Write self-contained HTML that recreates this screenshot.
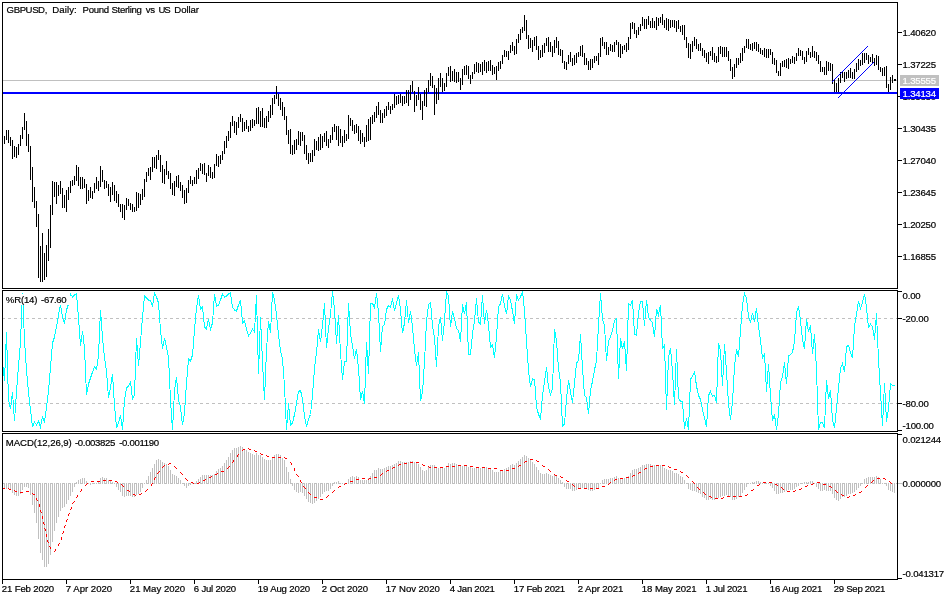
<!DOCTYPE html>
<html lang="en"><head><meta charset="utf-8"><title>GBPUSD, Daily</title>
<style>html,body{margin:0;padding:0;background:#fff}body{width:950px;height:600px;overflow:hidden}svg{display:block}text{font-family:"Liberation Sans",sans-serif;font-size:9.6px;fill:#000;letter-spacing:-0.2px}text{stroke:#000;stroke-width:.2px}.w{fill:#fff;stroke:#fff}</style></head><body>
<svg width="950" height="600" viewBox="0 0 950 600">
<rect width="950" height="600" fill="#fff"/>
<g shape-rendering="crispEdges" fill="none" stroke-width="1">
<path d="M3 80.5H897" stroke="#c0c0c0"/>
<rect x="3" y="92" width="894" height="2" fill="#0000ff" stroke="none"/>
<path d="M4.5 136V144M6.5 130V140M8.5 130V143M10.5 137V146M12.5 140V159M14.5 146V157M16.5 147V158M18.5 144V155M20.5 135V146M22.5 127V139M24.5 113V130M26.5 121V146M28.5 134V152M30.5 146V180M32.5 167V202M34.5 187V208M36.5 201V227M38.5 214V278M40.5 246V282M42.5 233V282M44.5 253V280M46.5 245V277M48.5 229V261M50.5 205V248M52.5 181V215M54.5 182V197M56.5 182V204M58.5 185V196M60.5 181V194M62.5 188V208M64.5 195V208M66.5 190V212M68.5 187V200M70.5 181V193M72.5 180V186M74.5 176V185M76.5 165V181M78.5 167V186M80.5 177V189M82.5 177V189M84.5 179V188M86.5 184V204M88.5 190V201M90.5 187V198M92.5 191V199M94.5 183V193M96.5 177V189M98.5 181V191M100.5 166V187M102.5 170V182M104.5 180V189M106.5 181V188M108.5 184V196M110.5 187V202M112.5 182V195M114.5 185V201M116.5 191V203M118.5 194V207M120.5 204V212M122.5 204V218M124.5 205V220M126.5 198V210M128.5 199V206M130.5 203V210M132.5 204V212M134.5 207V212M136.5 192V211M138.5 193V208M140.5 194V205M142.5 189V200M144.5 179V197M146.5 172V182M148.5 168V176M150.5 167V180M152.5 157V172M154.5 157V168M156.5 155V169M158.5 150V160M160.5 155V172M162.5 165V183M164.5 169V184M166.5 161V175M168.5 171V179M170.5 173V189M172.5 183V195M174.5 181V196M176.5 176V187M178.5 175V188M180.5 182V191M182.5 185V198M184.5 190V204M186.5 188V203M188.5 180V193M190.5 176V184M192.5 180V186M194.5 177V184M196.5 170V184M198.5 168V179M200.5 163V171M202.5 164V174M204.5 163V175M206.5 173V182M208.5 165V176M210.5 167V178M212.5 172V179M214.5 164V178M216.5 154V166M218.5 156V167M220.5 155V164M222.5 151V160M224.5 141V154M226.5 136V148M228.5 131V141M230.5 122V138M232.5 116V126M234.5 121V133M236.5 122V135M238.5 117V128M240.5 114V122M242.5 118V132M244.5 122V131M246.5 120V129M248.5 126V132M250.5 120V131M252.5 119V128M254.5 120V126M256.5 108V124M258.5 107V124M260.5 111V127M262.5 108V127M264.5 118V128M266.5 116V128M268.5 111V122M270.5 105V118M272.5 98V115M274.5 95V104M276.5 86V99M278.5 94V106M280.5 98V110M282.5 102V116M284.5 107V120M286.5 116V135M288.5 130V144M290.5 129V154M292.5 145V155M294.5 140V154M296.5 139V150M298.5 131V145M300.5 132V146M302.5 132V141M304.5 135V154M306.5 145V160M308.5 153V164M310.5 153V162M312.5 150V162M314.5 139V156M316.5 141V150M318.5 137V151M320.5 134V150M322.5 136V148M324.5 133V142M326.5 131V146M328.5 139V148M330.5 135V143M332.5 127V140M334.5 124V132M336.5 126V140M338.5 126V146M340.5 129V143M342.5 136V147M344.5 130V143M346.5 134V141M348.5 115V139M350.5 118V126M352.5 120V131M354.5 125V134M356.5 124V133M358.5 126V141M360.5 130V144M362.5 133V142M364.5 137V147M366.5 125V142M368.5 119V141M370.5 117V140M372.5 115V124M374.5 112V122M376.5 106V118M378.5 102V115M380.5 110V123M382.5 113V123M384.5 109V118M386.5 106V116M388.5 102V110M390.5 106V114M392.5 104V110M394.5 94V108M396.5 96V105M398.5 95V104M400.5 94V103M402.5 96V106M404.5 96V104M406.5 90V103M408.5 90V106M410.5 85V100M412.5 81V92M414.5 91V112M416.5 95V106M418.5 87V100M420.5 94V110M422.5 101V120M424.5 90V106M426.5 88V107M428.5 80V92M430.5 73V86M432.5 76V88M434.5 85V115M436.5 88V104M438.5 78V100M440.5 73V87M442.5 78V92M444.5 83V91M446.5 73V87M448.5 67V76M450.5 66V82M452.5 71V81M454.5 69V82M456.5 72V83M458.5 72V82M460.5 78V90M462.5 69V85M464.5 66V75M466.5 65V75M468.5 66V79M470.5 75V84M472.5 72V79M474.5 64V74M476.5 62V72M478.5 63V73M480.5 64V72M482.5 62V75M484.5 60V71M486.5 62V73M488.5 61V71M490.5 60V71M492.5 65V75M494.5 67V74M496.5 66V80M498.5 62V71M500.5 61V69M502.5 55V64M504.5 50V57M506.5 51V57M508.5 51V60M510.5 45V53M512.5 42V51M514.5 46V55M516.5 39V54M518.5 34V43M520.5 29V40M522.5 27V33M524.5 15V31M526.5 20V39M528.5 35V49M530.5 38V48M532.5 40V52M534.5 37V46M536.5 36V50M538.5 46V60M540.5 50V58M542.5 45V57M544.5 43V53M546.5 38V46M548.5 37V52M550.5 42V52M552.5 46V57M554.5 40V53M556.5 37V48M558.5 41V55M560.5 49V56M562.5 50V63M564.5 61V69M566.5 62V70M568.5 55V64M570.5 52V62M572.5 58V66M574.5 55V65M576.5 53V63M578.5 52V57M580.5 46V56M582.5 45V57M584.5 53V65M586.5 58V65M588.5 61V70M590.5 59V70M592.5 59V68M594.5 56V63M596.5 56V61M598.5 53V65M600.5 38V57M602.5 37V46M604.5 42V49M606.5 42V55M608.5 47V55M610.5 44V51M612.5 45V52M614.5 42V52M616.5 40V45M618.5 42V57M620.5 44V58M622.5 46V54M624.5 45V50M626.5 43V52M628.5 37V50M630.5 23V39M632.5 22V29M634.5 23V34M636.5 30V38M638.5 27V35M640.5 24V31M642.5 17V26M644.5 19V29M646.5 19V29M648.5 16V25M650.5 21V28M652.5 18V28M654.5 21V28M656.5 17V30M658.5 18V26M660.5 17V23M662.5 14V25M664.5 20V28M666.5 18V30M668.5 19V31M670.5 20V28M672.5 20V27M674.5 20V28M676.5 21V32M678.5 20V29M680.5 26V32M682.5 25V35M684.5 25V40M686.5 37V48M688.5 43V58M690.5 44V59M692.5 41V52M694.5 37V46M696.5 39V49M698.5 44V51M700.5 43V51M702.5 48V56M704.5 50V58M706.5 53V62M708.5 52V64M710.5 51V56M712.5 47V60M714.5 53V62M716.5 56V63M718.5 47V62M720.5 46V54M722.5 47V57M724.5 47V57M726.5 47V57M728.5 51V61M730.5 59V71M732.5 67V79M734.5 64V77M736.5 58V68M738.5 58V65M740.5 53V63M742.5 48V61M744.5 46V53M746.5 39V48M748.5 39V49M750.5 44V50M752.5 43V51M754.5 42V49M756.5 42V51M758.5 44V52M760.5 48V54M762.5 50V55M764.5 48V57M766.5 49V58M768.5 49V58M770.5 49V55M772.5 52V64M774.5 58V65M776.5 60V73M778.5 71V76M780.5 63V76M782.5 61V67M784.5 60V67M786.5 59V68M788.5 58V69M790.5 59V64M792.5 56V63M794.5 57V64M796.5 53V61M798.5 48V56M800.5 50V56M802.5 51V60M804.5 57V64M806.5 51V62M808.5 48V55M810.5 52V58M812.5 46V57M814.5 51V58M816.5 52V61M818.5 55V64M820.5 61V72M822.5 67V72M824.5 67V75M826.5 61V75M828.5 62V71M830.5 63V71M832.5 64V84M834.5 80V92M836.5 83V92M838.5 78V92M840.5 72V83M842.5 72V78M844.5 72V82M846.5 72V79M848.5 70V78M850.5 68V78M852.5 72V79M854.5 69V79M856.5 63V72M858.5 59V70M860.5 60V66M862.5 53V65M864.5 53V63M866.5 53V60M868.5 55V64M870.5 57V62M872.5 54V63M874.5 58V66M876.5 55V65M878.5 56V70M880.5 67V72M882.5 68V76M884.5 67V76M886.5 66V88M888.5 84V92M890.5 77V90M892.5 75V83M894.5 79V81" stroke="#000"/>
<rect x="894" y="79" width="2" height="2" fill="#000" stroke="none"/>
<path d="M832 81.5h1M833 80.5h1M834 79.5h1M835 78.5h1M836 77.5h1M837 76.5h1M838 75.5h1M839 74.5h1M840 73.5h1M841 72.5h1M842 71.5h1M843 70.5h1M844 69.5h1M845 68.5h1M846 67.5h1M847 66.5h1M848 65.5h1M849 64.5h1M850 63.5h1M851 62.5h1M852 61.5h1M853 60.5h1M854 59.5h1M855 58.5h1M856 57.5h1M857 56.5h1M858 55.5h1M859 54.5h1M860 53.5h1M861 52.5h1M862 51.5h1M863 50.5h1M864 49.5h1M865 48.5h1M866 47.5h1M867 46.5h1M838 97.5h1M839 96.5h1M840 95.5h1M841 94.5h1M842 93.5h1M843 92.5h1M844 91.5h1M845 90.5h1M846 89.5h1M847 88.5h1M848 87.5h1M849 86.5h1M850 85.5h1M851 84.5h1M852 83.5h1M853 82.5h1M854 81.5h1M855 80.5h1M856 79.5h1M857 78.5h1M858 77.5h1M859 76.5h1M860 75.5h1M861 74.5h1M862 73.5h1M863 72.5h1M864 71.5h1M865 70.5h1M866 69.5h1M867 68.5h1M868 67.5h1M869 66.5h1M870 65.5h1M871 64.5h1M872 63.5h1M873 62.5h1" stroke="#0000ff"/>
<path d="M2 318.5H897" stroke="#c0c0c0" stroke-dasharray="3 3"/>
<path d="M2 403.5H897" stroke="#c0c0c0" stroke-dasharray="3 3"/>
<polyline points="2.5,362.0 4.5,381.0 6.5,332.0 8.5,400.0 10.5,409.0 12.5,392.0 14.5,421.0 16.5,392.0 18.5,366.0 20.5,342.0 22.5,293.0 24.5,340.0 26.5,370.0 28.5,392.0 30.5,410.0 32.5,427.0 34.5,422.0 36.5,425.0 38.5,421.0 40.5,427.0 42.5,417.0 44.5,422.0 46.5,407.0 48.5,391.0 50.5,367.0 52.5,343.0 54.5,337.0 56.5,327.0 58.5,315.0 60.5,305.0 62.5,317.0 64.5,324.0 66.5,310.0 68.5,304.0 70.5,294.0 72.5,297.0 74.5,295.0 76.5,294.0 78.5,318.0 80.5,346.0 82.5,331.0 84.5,348.0 86.5,395.0 88.5,384.0 90.5,378.0 92.5,372.0 94.5,367.0 96.5,369.0 98.5,356.0 100.5,310.0 102.5,338.0 104.5,358.0 106.5,371.0 108.5,398.0 110.5,388.0 112.5,374.0 114.5,405.0 116.5,428.0 118.5,423.0 120.5,415.0 122.5,430.0 124.5,400.0 126.5,388.0 128.5,386.0 130.5,382.0 132.5,399.0 134.5,395.0 136.5,338.0 138.5,366.0 140.5,342.0 142.5,317.0 144.5,296.0 146.5,298.0 148.5,300.0 150.5,301.0 152.5,306.0 154.5,293.0 156.5,297.0 158.5,303.0 160.5,330.0 162.5,349.0 164.5,338.0 166.5,347.0 168.5,357.0 170.5,400.0 172.5,430.0 174.5,391.0 176.5,377.0 178.5,400.0 180.5,407.0 182.5,425.0 184.5,413.0 186.5,383.0 188.5,359.0 190.5,361.0 192.5,355.0 194.5,330.0 196.5,308.0 198.5,295.0 200.5,309.0 202.5,307.0 204.5,327.0 206.5,329.0 208.5,319.0 210.5,329.0 212.5,323.0 214.5,294.0 216.5,306.0 218.5,305.0 220.5,300.0 222.5,294.0 224.5,297.0 226.5,296.0 228.5,294.0 230.5,293.0 232.5,307.0 234.5,310.0 236.5,311.0 238.5,305.0 240.5,300.0 242.5,323.0 244.5,321.0 246.5,329.0 248.5,336.0 250.5,333.0 252.5,329.0 254.5,332.0 256.5,295.0 258.5,374.0 260.5,317.0 262.5,362.0 264.5,400.0 266.5,350.0 268.5,321.0 270.5,333.0 272.5,292.0 274.5,300.0 276.5,315.0 278.5,335.0 280.5,351.0 282.5,359.0 284.5,386.0 286.5,430.0 288.5,403.4 290.5,425.6 292.5,423.0 294.5,414.5 296.5,403.4 298.5,391.5 300.5,390.4 302.5,398.6 304.5,416.0 306.5,427.0 308.5,419.0 310.5,414.5 312.5,395.0 314.5,368.5 316.5,352.7 318.5,329.4 320.5,342.0 322.5,325.4 324.5,303.3 326.5,348.4 328.5,328.6 330.5,314.4 332.5,291.4 334.5,308.8 336.5,343.7 338.5,315.0 340.5,352.4 342.5,379.6 344.5,362.0 346.5,361.0 348.5,303.3 350.5,333.4 352.5,346.0 354.5,358.7 356.5,349.2 358.5,368.2 360.5,400.2 362.5,390.7 364.5,404.2 366.5,342.0 368.5,373.8 370.5,304.0 372.5,303.3 374.5,308.0 376.5,293.4 378.5,312.8 380.5,351.6 382.5,326.2 384.5,324.7 386.5,309.6 388.5,305.6 390.5,307.2 392.5,298.5 394.5,311.2 396.5,302.5 398.5,295.3 400.5,309.6 402.5,333.4 404.5,323.0 406.5,300.4 408.5,323.0 410.5,311.2 412.5,327.0 414.5,349.2 416.5,365.9 418.5,352.4 420.5,401.0 422.5,392.3 424.5,362.0 426.5,320.7 428.5,304.8 430.5,302.5 432.5,325.4 434.5,338.0 436.5,366.7 438.5,327.0 440.5,316.7 442.5,340.5 444.5,320.7 446.5,292.2 448.5,296.0 450.5,327.0 452.5,311.2 454.5,318.3 456.5,328.6 458.5,330.2 460.5,342.0 462.5,304.0 464.5,314.4 466.5,302.5 468.5,354.8 470.5,354.8 472.5,333.4 474.5,320.7 476.5,298.5 478.5,322.3 480.5,323.9 482.5,295.3 484.5,323.9 486.5,309.6 488.5,324.7 490.5,347.6 492.5,344.5 494.5,358.0 496.5,336.5 498.5,306.4 500.5,304.0 502.5,293.8 504.5,305.6 506.5,314.4 508.5,296.0 510.5,300.0 512.5,311.2 514.5,323.9 516.5,294.5 518.5,300.0 520.5,297.0 522.5,291.4 524.5,311.2 526.5,341.3 528.5,370.5 530.5,386.8 532.5,378.8 534.5,379.6 536.5,406.6 538.5,414.5 540.5,418.4 542.5,395.5 544.5,382.0 546.5,367.0 548.5,387.5 550.5,394.7 552.5,389.0 554.5,328.6 556.5,341.3 558.5,368.5 560.5,382.8 562.5,426.4 564.5,424.0 566.5,398.6 568.5,380.4 570.5,392.3 572.5,402.6 574.5,382.8 576.5,363.0 578.5,360.6 580.5,334.2 582.5,368.5 584.5,395.5 586.5,397.8 588.5,413.7 590.5,390.7 592.5,381.2 594.5,370.0 596.5,360.6 598.5,325.4 600.5,293.0 602.5,319.0 604.5,325.4 606.5,361.0 608.5,341.3 610.5,336.5 612.5,330.2 614.5,320.7 616.5,319.0 618.5,378.5 620.5,338.0 622.5,349.2 624.5,341.3 626.5,371.4 628.5,304.0 630.5,305.6 632.5,300.0 634.5,334.2 636.5,335.0 638.5,312.8 640.5,301.4 642.5,301.7 644.5,326.2 646.5,300.0 648.5,317.5 650.5,320.0 652.5,323.0 654.5,337.3 656.5,308.8 658.5,315.0 660.5,304.8 662.5,349.2 664.5,344.5 666.5,409.7 668.5,357.4 670.5,348.0 672.5,371.7 674.5,405.0 676.5,348.7 678.5,398.6 680.5,401.0 682.5,401.8 684.5,428.7 686.5,418.4 688.5,430.0 690.5,379.6 692.5,375.7 694.5,371.7 696.5,386.0 698.5,395.5 700.5,399.4 702.5,409.7 704.5,417.7 706.5,427.2 708.5,395.5 710.5,391.5 712.5,396.3 714.5,395.5 716.5,402.6 718.5,343.0 720.5,351.0 722.5,386.0 724.5,344.3 726.5,371.7 728.5,403.4 730.5,420.0 732.5,401.8 734.5,367.0 736.5,349.4 738.5,357.0 740.5,330.2 742.5,304.8 744.5,293.4 746.5,298.5 748.5,316.0 750.5,323.0 752.5,312.8 754.5,322.3 756.5,308.0 758.5,327.0 760.5,339.7 762.5,358.8 764.5,353.3 766.5,391.5 768.5,363.8 770.5,395.5 772.5,420.8 774.5,414.5 776.5,430.0 778.5,414.5 780.5,382.8 782.5,376.5 784.5,362.2 786.5,384.4 788.5,355.7 790.5,354.8 792.5,352.4 794.5,341.3 796.5,312.8 798.5,306.0 800.5,320.7 802.5,339.7 804.5,349.2 806.5,319.0 808.5,331.8 810.5,325.4 812.5,354.0 814.5,334.2 816.5,370.0 818.5,430.0 820.5,422.4 822.5,422.4 824.5,428.0 826.5,380.4 828.5,398.6 830.5,390.5 832.5,419.7 834.5,427.6 836.5,408.7 838.5,388.0 840.5,368.5 842.5,363.7 844.5,372.2 846.5,346.5 848.5,345.6 850.5,352.3 852.5,358.4 854.5,326.0 856.5,314.6 858.5,301.2 860.5,308.5 862.5,302.4 864.5,294.0 866.5,307.3 868.5,327.4 870.5,324.3 872.5,326.8 874.5,339.5 876.5,313.4 878.5,360.0 880.5,392.9 882.5,425.8 884.5,383.0 886.5,421.5 888.5,408.7 890.5,383.7 892.5,385.6 894.5,385.6" stroke="#00ffff"/>
<path d="M4.5 483V488M6.5 483V489M8.5 483V489M10.5 483V490M12.5 483V493M14.5 483V495M16.5 483V496M18.5 483V496M20.5 483V494M22.5 483V490M24.5 483V487M26.5 483V487M28.5 483V488M30.5 483V495M32.5 483V505M34.5 483V513M36.5 483V523M38.5 483V539M40.5 483V553M42.5 483V560M44.5 483V567M46.5 483V567M48.5 483V564M50.5 483V555M52.5 483V542M54.5 483V531M56.5 483V523M58.5 483V517M60.5 483V511M62.5 483V508M64.5 483V507M66.5 483V504M68.5 483V500M70.5 483V496M72.5 483V492M74.5 483V487M76.5 482V484M78.5 480V484M80.5 479V484M82.5 478V484M84.5 478V484M86.5 481V484M88.5 483V484M90.5 483V485M92.5 483V484M94.5 483V484M96.5 483V484M98.5 481V484M100.5 478V484M102.5 477V484M104.5 478V484M106.5 478V484M108.5 480V484M110.5 481V484M112.5 482V484M114.5 483V484M116.5 483V487M118.5 483V490M120.5 483V492M122.5 483V496M124.5 483V497M126.5 483V496M128.5 483V496M130.5 483V496M132.5 483V497M134.5 483V497M136.5 483V495M138.5 483V494M140.5 483V492M142.5 483V488M144.5 483V484M146.5 480V484M148.5 476V484M150.5 472V484M152.5 468V484M154.5 464V484M156.5 460V484M158.5 459V484M160.5 460V484M162.5 462V484M164.5 463V484M166.5 464V484M168.5 466V484M170.5 470V484M172.5 474V484M174.5 475V484M176.5 476V484M178.5 478V484M180.5 480V484M182.5 483V484M184.5 483V486M186.5 483V488M188.5 483V486M190.5 483V485M192.5 483V484M194.5 483V484M196.5 481V484M198.5 479V484M200.5 477V484M202.5 475V484M204.5 475V484M206.5 475V484M208.5 475V484M210.5 475V484M212.5 475V484M214.5 474V484M216.5 471V484M218.5 469V484M220.5 468V484M222.5 466V484M224.5 463V484M226.5 460V484M228.5 457V484M230.5 453V484M232.5 450V484M234.5 448V484M236.5 448V484M238.5 447V484M240.5 446V484M242.5 447V484M244.5 449V484M246.5 450V484M248.5 452V484M250.5 453V484M252.5 454V484M254.5 455V484M256.5 453V484M258.5 455V484M260.5 455V484M262.5 457V484M264.5 459V484M266.5 460V484M268.5 460V484M270.5 460V484M272.5 457V484M274.5 455V484M276.5 454V484M278.5 454V484M280.5 455V484M282.5 458V484M284.5 460V484M286.5 467V484M288.5 472V484M290.5 479V484M292.5 483V486M294.5 483V490M296.5 483V492M298.5 483V493M300.5 483V492M302.5 483V493M304.5 483V496M306.5 483V499M308.5 483V502M310.5 483V503M312.5 483V504M314.5 483V503M316.5 483V501M318.5 483V499M320.5 483V497M322.5 483V494M324.5 483V492M326.5 483V491M328.5 483V491M330.5 483V489M332.5 483V486M334.5 482V484M336.5 482V484M338.5 481V484M340.5 483V484M342.5 483V484M344.5 483V484M346.5 483V484M348.5 479V484M350.5 477V484M352.5 476V484M354.5 477V484M356.5 476V484M358.5 477V484M360.5 480V484M362.5 480V484M364.5 480V484M366.5 480V484M368.5 478V484M370.5 476V484M372.5 473V484M374.5 470V484M376.5 470V484M378.5 468V484M380.5 469V484M382.5 469V484M384.5 468V484M386.5 467V484M388.5 466V484M390.5 466V484M392.5 465V484M394.5 464V484M396.5 463V484M398.5 461V484M400.5 461V484M402.5 462V484M404.5 462V484M406.5 462V484M408.5 462V484M410.5 461V484M412.5 461V484M414.5 462V484M416.5 462V484M418.5 464V484M420.5 467V484M422.5 470V484M424.5 471V484M426.5 470V484M428.5 467V484M430.5 465V484M432.5 465V484M434.5 465V484M436.5 467V484M438.5 468V484M440.5 468V484M442.5 468V484M444.5 468V484M446.5 466V484M448.5 463V484M450.5 464V484M452.5 463V484M454.5 463V484M456.5 464V484M458.5 465V484M460.5 466V484M462.5 466V484M464.5 466V484M466.5 466V484M468.5 467V484M470.5 467V484M472.5 468V484M474.5 468V484M476.5 468V484M478.5 468V484M480.5 468V484M482.5 467V484M484.5 467V484M486.5 467V484M488.5 468V484M490.5 469V484M492.5 470V484M494.5 472V484M496.5 472V484M498.5 472V484M500.5 471V484M502.5 470V484M504.5 469V484M506.5 468V484M508.5 467V484M510.5 465V484M512.5 464V484M514.5 465V484M516.5 463V484M518.5 461V484M520.5 459V484M522.5 457V484M524.5 455V484M526.5 456V484M528.5 458V484M530.5 460V484M532.5 462V484M534.5 464V484M536.5 467V484M538.5 470V484M540.5 473V484M542.5 474V484M544.5 474V484M546.5 473V484M548.5 474V484M550.5 475V484M552.5 476V484M554.5 475V484M556.5 476V484M558.5 478V484M560.5 480V484M562.5 482V484M564.5 483V487M566.5 483V489M568.5 483V489M570.5 483V489M572.5 483V491M574.5 483V491M576.5 483V490M578.5 483V489M580.5 483V489M582.5 483V488M584.5 483V489M586.5 483V489M588.5 483V490M590.5 483V491M592.5 483V491M594.5 483V490M596.5 483V489M598.5 483V488M600.5 483V484M602.5 480V484M604.5 479V484M606.5 479V484M608.5 479V484M610.5 478V484M612.5 478V484M614.5 477V484M616.5 476V484M618.5 478V484M620.5 478V484M622.5 479V484M624.5 478V484M626.5 477V484M628.5 476V484M630.5 473V484M632.5 470V484M634.5 469V484M636.5 469V484M638.5 468V484M640.5 467V484M642.5 465V484M644.5 465V484M646.5 464V484M648.5 464V484M650.5 464V484M652.5 465V484M654.5 465V484M656.5 465V484M658.5 465V484M660.5 465V484M662.5 466V484M664.5 468V484M666.5 469V484M668.5 470V484M670.5 470V484M672.5 471V484M674.5 473V484M676.5 473V484M678.5 474V484M680.5 476V484M682.5 477V484M684.5 480V484M686.5 483V484M688.5 483V489M690.5 483V490M692.5 483V491M694.5 483V491M696.5 483V492M698.5 483V493M700.5 483V494M702.5 483V497M704.5 483V498M706.5 483V500M708.5 483V500M710.5 483V499M712.5 483V500M714.5 483V500M716.5 483V499M718.5 483V498M720.5 483V497M722.5 483V496M724.5 483V496M726.5 483V495M728.5 483V496M730.5 483V497M732.5 483V500M734.5 483V500M736.5 483V499M738.5 483V497M740.5 483V496M742.5 483V493M744.5 483V490M746.5 483V487M748.5 483V484M750.5 483V484M752.5 482V484M754.5 482V484M756.5 481V484M758.5 481V484M760.5 482V484M762.5 483V484M764.5 483V484M766.5 483V484M768.5 483V484M770.5 483V486M772.5 483V488M774.5 483V491M776.5 483V494M778.5 483V494M780.5 483V493M782.5 483V493M784.5 483V492M786.5 483V491M788.5 483V490M790.5 483V490M792.5 483V490M794.5 483V489M796.5 483V487M798.5 483V486M800.5 483V484M802.5 483V484M804.5 482V484M806.5 482V484M808.5 482V484M810.5 481V484M812.5 481V484M814.5 483V484M816.5 483V487M818.5 483V489M820.5 483V491M822.5 483V491M824.5 483V490M826.5 483V491M828.5 483V491M830.5 483V491M832.5 483V494M834.5 483V498M836.5 483V500M838.5 483V501M840.5 483V499M842.5 483V497M844.5 483V497M846.5 483V496M848.5 483V494M850.5 483V494M852.5 483V493M854.5 483V492M856.5 483V490M858.5 483V488M860.5 483V486M862.5 483V484M864.5 479V484M866.5 478V484M868.5 477V484M870.5 477V484M872.5 477V484M874.5 477V484M876.5 476V484M878.5 477V484M880.5 479V484M882.5 483V484M884.5 483V484M886.5 483V486M888.5 483V490M890.5 483V491M892.5 483V492M894.5 483V493" stroke="#c0c0c0"/>
<path d="M2 483.5H897" stroke="#c0c0c0" stroke-dasharray="3 3"/>
<path d="M898 483.5H902" stroke="#c0c0c0"/>
<path d="M248 448.5h1M243 449.5h2M249 449.5h2M242 450.5h1M254 450.5h1M255 451.5h2M260 453.5h1M238 454.5h1M261 454.5h2M237 455.5h1M266 455.5h1M237 456.5h1M267 456.5h2M272 457.5h3M278 457.5h3M284 457.5h1M285 458.5h2M530 459.5h3M233 460.5h1M536 460.5h1M233 461.5h1M525 461.5h2M537 461.5h2M232 462.5h1M290 462.5h1M410 462.5h3M416 462.5h3M524 462.5h1M169 463.5h2M291 463.5h1M404 463.5h3M168 464.5h1M291 464.5h1M399 464.5h2M422 464.5h1M164 465.5h1M398 465.5h1M423 465.5h2M458 465.5h3M464 465.5h3M519 465.5h2M542 465.5h1M656 465.5h3M662 465.5h3M163 466.5h1M174 466.5h1M229 466.5h1M428 466.5h1M446 466.5h3M452 466.5h3M470 466.5h3M518 466.5h1M543 466.5h2M650 466.5h3M668 466.5h1M162 467.5h1M175 467.5h1M228 467.5h1M393 467.5h2M429 467.5h2M434 467.5h3M440 467.5h3M476 467.5h3M482 467.5h3M669 467.5h2M176 468.5h1M227 468.5h1M294 468.5h1M392 468.5h1M488 468.5h3M494 468.5h3M512 468.5h3M645 468.5h2M294 469.5h1M548 469.5h1M644 469.5h1M674 469.5h3M294 470.5h1M387 470.5h2M500 470.5h3M506 470.5h3M549 470.5h1M159 471.5h1M221 471.5h3M386 471.5h1M550 471.5h1M680 471.5h1M158 472.5h1M180 472.5h1M639 472.5h2M681 472.5h2M157 473.5h1M181 473.5h1M217 473.5h1M382 473.5h1M638 473.5h1M182 474.5h1M215 474.5h2M296 474.5h1M381 474.5h1M554 474.5h1M297 475.5h1M380 475.5h1M555 475.5h2M633 475.5h2M686 475.5h1M211 476.5h1M298 476.5h1M560 476.5h1M632 476.5h1M687 476.5h1M155 477.5h1M209 477.5h2M374 477.5h3M561 477.5h2M626 477.5h3M688 477.5h1M154 478.5h1M185 478.5h1M362 478.5h3M369 478.5h2M620 478.5h3M877 478.5h3M883 478.5h2M154 479.5h1M186 479.5h1M205 479.5h1M356 479.5h3M368 479.5h1M615 479.5h2M885 479.5h1M103 480.5h3M109 480.5h3M187 480.5h1M203 480.5h2M300 480.5h1M566 480.5h1M614 480.5h1M873 480.5h1M91 481.5h3M97 481.5h3M115 481.5h2M300 481.5h1M350 481.5h3M567 481.5h2M692 481.5h1M872 481.5h1M889 481.5h1M117 482.5h1M191 482.5h2M199 482.5h1M301 482.5h1M610 482.5h1M693 482.5h1M763 482.5h3M769 482.5h3M817 482.5h3M871 482.5h1M890 482.5h1M87 483.5h1M152 483.5h1M193 483.5h1M197 483.5h2M345 483.5h2M609 483.5h1M694 483.5h1M813 483.5h1M891 483.5h1M86 484.5h1M121 484.5h1M151 484.5h1M344 484.5h1M572 484.5h1M608 484.5h1M759 484.5h1M775 484.5h2M811 484.5h2M823 484.5h3M85 485.5h1M122 485.5h1M151 485.5h1M573 485.5h1M757 485.5h2M777 485.5h1M807 485.5h1M867 485.5h1M123 486.5h1M303 486.5h1M339 486.5h2M574 486.5h1M602 486.5h3M805 486.5h2M829 486.5h2M866 486.5h1M304 487.5h1M338 487.5h1M697 487.5h1M781 487.5h1M831 487.5h1M865 487.5h1M2 488.5h3M8 488.5h1M305 488.5h1M578 488.5h3M584 488.5h3M590 488.5h3M596 488.5h3M698 488.5h1M782 488.5h1M801 488.5h1M9 489.5h2M81 489.5h1M147 489.5h1M699 489.5h1M753 489.5h1M783 489.5h1M799 489.5h2M14 490.5h1M81 490.5h1M127 490.5h2M146 490.5h1M334 490.5h1M751 490.5h2M795 490.5h1M835 490.5h1M15 491.5h2M26 491.5h3M80 491.5h1M129 491.5h1M145 491.5h1M333 491.5h1M787 491.5h3M793 491.5h2M836 491.5h1M861 491.5h1M20 492.5h3M308 492.5h1M332 492.5h1M703 492.5h1M837 492.5h1M859 492.5h2M32 493.5h1M141 493.5h1M309 493.5h1M704 493.5h1M33 494.5h2M133 494.5h2M139 494.5h2M310 494.5h1M705 494.5h1M747 494.5h1M841 494.5h1M855 494.5h1M77 495.5h1M135 495.5h1M328 495.5h1M745 495.5h2M842 495.5h2M853 495.5h2M77 496.5h1M327 496.5h1M709 496.5h2M727 496.5h3M733 496.5h3M739 496.5h3M849 496.5h1M76 497.5h1M314 497.5h3M326 497.5h1M711 497.5h1M723 497.5h1M847 497.5h2M36 498.5h1M715 498.5h3M721 498.5h2M36 499.5h1M320 499.5h3M37 500.5h1M74 501.5h1M73 502.5h1M72 503.5h1M39 504.5h1M39 505.5h1M39 506.5h1M71 507.5h1M71 508.5h1M70 509.5h1M40 510.5h1M40 511.5h1M41 512.5h1M69 513.5h1M68 514.5h1M68 515.5h1M42 516.5h1M42 517.5h1M42 518.5h1M67 519.5h1M66 520.5h1M66 521.5h1M43 522.5h1M43 523.5h1M44 524.5h1M65 525.5h1M64 526.5h1M64 527.5h1M44 528.5h1M45 529.5h1M45 530.5h1M63 531.5h1M63 532.5h1M62 533.5h1M46 534.5h1M46 535.5h1M46 536.5h1M61 537.5h1M61 538.5h1M61 539.5h1M47 540.5h1M47 541.5h1M48 542.5h1M59 543.5h1M58 544.5h1M58 545.5h1M49 546.5h1M50 547.5h1M50 548.5h1M55 549.5h1M55 550.5h1M54 551.5h1" stroke="#ff0000"/>
<path d="M2.5 288.5V2.5H897.5V288.5" stroke="#000"/><path d="M2 288.5H898" stroke="#000"/>
<path d="M2.5 431.5V290.5H897.5V431.5" stroke="#000"/><path d="M2 431.5H898" stroke="#000"/>
<path d="M2.5 579.5V433.5H897.5V579.5" stroke="#000"/><path d="M2 579.5H898" stroke="#000"/>
<path d="M898 32.5H902M898 64.5H902M898 96.5H902M898 128.5H902M898 160.5H902M898 192.5H902M898 224.5H902M898 256.5H902M898 291.5H902M898 318.5H902M898 403.5H902M898 430.5H902M898 434.5H902M898 578.5H902" stroke="#000"/>
<path d="M2.5 580V584M66.5 580V584M130.5 580V584M194.5 580V584M258.5 580V584M322.5 580V584M386.5 580V584M450.5 580V584M514.5 580V584M578.5 580V584M642.5 580V584M706.5 580V584M770.5 580V584M834.5 580V584" stroke="#000"/>
</g>
<text x="902.6" y="36">1.40620</text>
<text x="902.6" y="68">1.37225</text>
<text x="902.6" y="100">1.33830</text>
<text x="902.6" y="132">1.30435</text>
<text x="902.6" y="164">1.27040</text>
<text x="902.6" y="196">1.23645</text>
<text x="902.6" y="228">1.20250</text>
<text x="902.6" y="260">1.16855</text>
<rect x="900" y="75" width="39" height="11" fill="#c0c0c0"/>
<text x="902.6" y="84" class="w">1.35555</text>
<rect x="900" y="88" width="39" height="11" fill="#0000ff"/>
<text x="902.6" y="97" class="w">1.34134</text>
<text x="902.6" y="299">0.00</text>
<text x="902.6" y="322">-20.00</text>
<text x="902.6" y="407">-80.00</text>
<text x="902.6" y="429">-100.00</text>
<text x="902.6" y="443">0.021244</text>
<text x="902.6" y="487">0.000000</text>
<text x="902.6" y="577">-0.041317</text>
<text y="13"><tspan x="6.6" textLength="40.5" lengthAdjust="spacing">GBPUSD,</tspan> <tspan x="52.2" textLength="24.3" lengthAdjust="spacing">Daily:</tspan> <tspan x="82.6" textLength="26.4" lengthAdjust="spacing">Pound</tspan> <tspan x="111.4" textLength="30.3" lengthAdjust="spacing">Sterling</tspan> <tspan x="145.7" textLength="9.2" lengthAdjust="spacing">vs</tspan> <tspan x="158.4" textLength="12" lengthAdjust="spacing">US</tspan> <tspan x="174.3" textLength="24.4" lengthAdjust="spacing">Dollar</tspan></text>
<rect x="4" y="294" width="66" height="11" fill="#fff"/>
<text y="303"><tspan x="5.8" textLength="31.4" lengthAdjust="spacing">%R(14)</tspan> <tspan x="41" textLength="25.5" lengthAdjust="spacing">-67.60</tspan></text>
<text y="446"><tspan x="5.8" textLength="65.8" lengthAdjust="spacing">MACD(12,26,9)</tspan> <tspan x="75" textLength="40.2" lengthAdjust="spacing">-0.003825</tspan> <tspan x="119.2" textLength="39.8" lengthAdjust="spacing">-0.001190</tspan></text>
<text x="1.8" y="592" textLength="52.2" lengthAdjust="spacing">21 Feb 2020</text>
<text x="65.8" y="592" textLength="46.2" lengthAdjust="spacing">7 Apr 2020</text>
<text x="129.8" y="592" textLength="55.2" lengthAdjust="spacing">21 May 2020</text>
<text x="193.8" y="592" textLength="42.2" lengthAdjust="spacing">6 Jul 2020</text>
<text x="257.8" y="592" textLength="52.2" lengthAdjust="spacing">19 Aug 2020</text>
<text x="321.8" y="592" textLength="46.2" lengthAdjust="spacing">2 Oct 2020</text>
<text x="385.8" y="592" textLength="53.8" lengthAdjust="spacing">17 Nov 2020</text>
<text x="449.8" y="592" textLength="44.9" lengthAdjust="spacing">4 Jan 2021</text>
<text x="513.8" y="592" textLength="51.2" lengthAdjust="spacing">17 Feb 2021</text>
<text x="577.8" y="592" textLength="45.4" lengthAdjust="spacing">2 Apr 2021</text>
<text x="641.8" y="592" textLength="54.6" lengthAdjust="spacing">18 May 2021</text>
<text x="705.8" y="592" textLength="41.5" lengthAdjust="spacing">1 Jul 2021</text>
<text x="769.8" y="592" textLength="52.4" lengthAdjust="spacing">16 Aug 2021</text>
<text x="833.8" y="592" textLength="51.3" lengthAdjust="spacing">29 Sep 2021</text>
</svg></body></html>
